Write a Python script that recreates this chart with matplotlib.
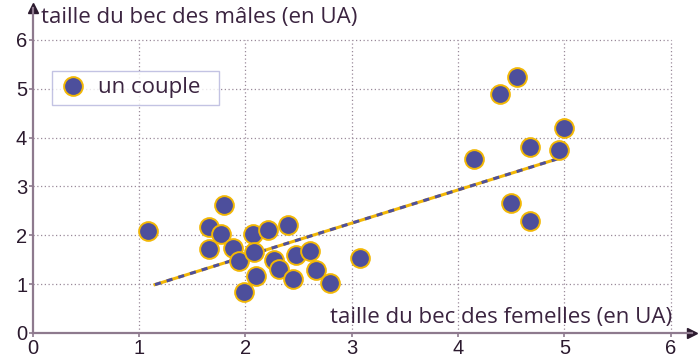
import numpy as np
import matplotlib
matplotlib.use("Agg")
import matplotlib.pyplot as plt

# beak sizes (UA): females on x, males on y
femelles = [1.085, 1.80, 1.66, 1.77, 1.66, 1.885, 1.94, 1.99, 2.07, 2.08,
            2.10, 2.21, 2.40, 2.27, 2.32, 2.48, 2.61, 2.66, 2.45, 2.80,
            3.08, 4.55, 4.39, 5.00, 4.68, 4.95, 4.15, 4.50, 4.68]
males = [2.09, 2.62, 2.17, 2.02, 1.72, 1.73, 1.48, 0.83, 2.02, 1.65,
         1.16, 2.10, 2.21, 1.49, 1.30, 1.60, 1.68, 1.29, 1.11, 1.03,
         1.54, 5.23, 4.90, 4.19, 3.81, 3.74, 3.57, 2.67, 2.29]

# trend line end points
line_x = [1.15, 4.93]
line_y = [0.99, 3.56]

ticks = [0, 1, 2, 3, 4, 5, 6]

txt = '#3b2440'
axis_col = '#8e7a8e'
grid_col = '#9a8a9a'
fill = '#4d4f9c'
edge = '#f2b705'

plt.rcParams['font.family'] = ['Open Sans', 'DejaVu Sans']

fig = plt.figure(figsize=(7, 3.62), dpi=100)
ax = fig.add_axes([32.7/700, 29/362, 659.3/700, 325/362])
ax.set_xlim(0, 6.2)
ax.set_ylim(0, 6.65)

for s in ['top', 'right']:
    ax.spines[s].set_visible(False)
for s in ['left', 'bottom']:
    ax.spines[s].set_color(axis_col)
    ax.spines[s].set_linewidth(1.6)

ax.hlines(ticks[1:], 0, 6, colors=grid_col, linestyles=(0, (1, 2)), linewidth=0.9, zorder=1)
ax.vlines(ticks[1:], 0, 6, colors=grid_col, linestyles=(0, (1, 2)), linewidth=0.9, zorder=1)

ax.set_xticks(ticks)
ax.set_yticks(ticks)
ax.tick_params(direction='out', length=3, width=1.2, color=axis_col,
               labelsize=14.5, labelcolor='#2b1a2e', pad=1)
for lab in ax.get_xticklabels() + ax.get_yticklabels():
    lab.set_family('Liberation Sans')

# arrows
ax.plot([1], [0], marker='>', ms=7, color='#2b1a2e', transform=ax.transAxes, clip_on=False)
ax.plot([0], [1], marker='^', ms=7, color='#2b1a2e', transform=ax.transAxes, clip_on=False)

# trend line, yellow under blue dashes
ax.plot(line_x, line_y, color=edge, lw=2.2, zorder=2)
ax.plot(line_x, line_y, color=fill, lw=2.2, ls=(0, (2, 2)), zorder=2)

ax.plot(femelles, males, 'o', ms=13.5, mfc=fill, mec=edge, mew=1.4, ls='none',
        zorder=3, label='un couple', clip_on=False)

leg = ax.legend(loc='upper left', bbox_to_anchor=(51.7/700, 1 - 70.7/362),
                bbox_transform=fig.transFigure, borderaxespad=0, fancybox=False,
                fontsize=16, handletextpad=0.5, borderpad=0.3, handlelength=1.3,
                labelcolor=txt)
leg.get_frame().set_edgecolor('#b4b4dc')
leg.get_frame().set_linewidth(1.0)
# a bit more room on the right like the original box
leg.get_texts()[0].set_text('un couple  ')

fig.text(41/700, 1 - 17/362, 'taille du bec des mâles (en UA)', ha='left', va='center',
         fontsize=16, color=txt)
fig.text(671.7/700, 1 - 317/362, 'taille du bec des femelles (en UA)', ha='right', va='center',
         fontsize=16, color=txt)

fig.savefig('out.png', dpi=100)
